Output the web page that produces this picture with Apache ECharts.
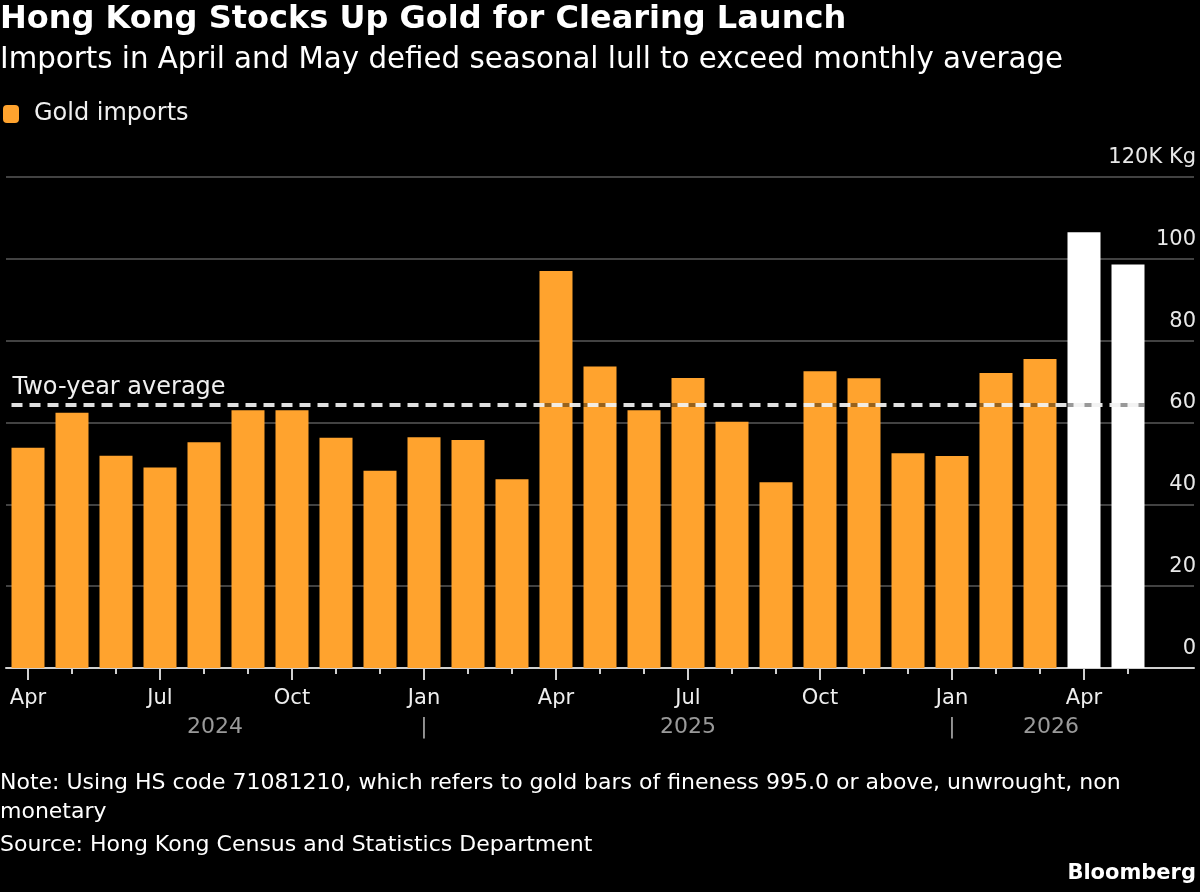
<!DOCTYPE html>
<html>
<head>
<meta charset="utf-8">
<script src="https://cdn.jsdelivr.net/npm/echarts@6/dist/echarts.min.js"></script>
<style>
    html, body { margin: 0; padding: 0; background: #000; }
    #chart { width: 1200px; height: 892px; }
</style>
</head>
<body>
<div id="chart"></div>
<script>
// monthly gold imports, Apr 2024 - May 2026 (thousand kg)
const months = ['Apr', 'May', 'Jun', 'Jul', 'Aug', 'Sep', 'Oct', 'Nov', 'Dec',
    'Jan', 'Feb', 'Mar', 'Apr', 'May', 'Jun', 'Jul', 'Aug', 'Sep', 'Oct', 'Nov', 'Dec',
    'Jan', 'Feb', 'Mar', 'Apr', 'May'];
const goldImports = [53.8, 62.4, 51.9, 49.0, 55.2, 63.0, 63.0, 56.3, 48.2,
    56.4, 55.7, 46.1, 97.0, 73.7, 63.0, 70.9, 60.2, 45.4, 72.5, 70.8, 52.5,
    51.8, 72.1, 75.5, 106.5, 98.6];
const twoYearAverage = 64.4;
const yearLabels = ['2024', '2025', '2026'];
const noteLines = ['Note: Using HS code 71081210, which refers to gold bars of fineness 995.0 or above, unwrought, non',
    'monetary'];
const sourceText = 'Source: Hong Kong Census and Statistics Department';

const font = 'DejaVu Sans';
const orange = '#ffa32e';
const axisGray = '#d0d0d0';
const barRatio = 0.75;

let chart = echarts.init(document.getElementById('chart'));

// one empty category on the right keeps the bars clear of the value labels
let categories = months.concat(['']);

// year captions sit midway between the January boundaries
let janIdx = [];
months.forEach((m, i) => { if (m === 'Jan') janIdx.push(i); });
let bounds = [-0.5].concat(janIdx, [months.length - 0.5]);
let yearAxisLabels = {};
for (let k = 0; k < yearLabels.length; k++) {
    yearAxisLabels[((bounds[k] + bounds[k + 1]) / 2).toFixed(2)] = yearLabels[k];
}
janIdx.forEach(i => { yearAxisLabels[i.toFixed(2)] = '|'; });

let barData = goldImports.map((v, i) => {
    if (i >= goldImports.length - 2) {
        return { value: v, itemStyle: { color: '#ffffff' } };
    }
    return v;
});

let lineStart = -barRatio / 2;
let lineEnd = months.length - 1 + barRatio / 2;

let options = {
    backgroundColor: '#000',
    animation: false,
    textStyle: { fontFamily: font },
    title: [
        {
            text: 'Hong Kong Stocks Up Gold for Clearing Launch',
            left: 0, top: 1, padding: 0,
            textStyle: { color: '#fff', fontSize: 32, fontWeight: 'bold', lineHeight: 38, fontFamily: font }
        },
        {
            text: 'Imports in April and May defied seasonal lull to exceed monthly average',
            left: 0, top: 43, padding: 0,
            textStyle: { color: '#fff', fontSize: 29.3, fontWeight: 'normal', lineHeight: 34, fontFamily: font }
        },
        {
            text: noteLines.join('\n'),
            left: 0, top: 769, padding: 0,
            textStyle: { color: '#fff', fontSize: 22, fontWeight: 'normal', lineHeight: 29, fontFamily: font }
        },
        {
            text: sourceText,
            left: 0, top: 831, padding: 0,
            textStyle: { color: '#fff', fontSize: 22, fontWeight: 'normal', lineHeight: 29, fontFamily: font }
        },
        {
            text: 'Bloomberg',
            right: 4, top: 862, padding: 0,
            textStyle: { color: '#fff', fontSize: 21, fontWeight: 'bold', lineHeight: 24, fontFamily: font }
        }
    ],
    legend: {
        data: ['Gold imports'],
        left: 3, top: 102, padding: 0,
        icon: 'roundRect',
        itemWidth: 16, itemHeight: 18,
        selectedMode: false,
        textStyle: { color: '#f0f0f0', fontSize: 24, fontFamily: font, padding: [0, 0, 0, 10] }
    },
    grid: {
        left: 6, right: 6, top: 177, bottom: 224,
        outerBoundsMode: 'none',
        containLabel: false
    },
    xAxis: [
        {
            type: 'category',
            data: categories,
            position: 'bottom',
            axisLine: { show: true, lineStyle: { color: axisGray, width: 2 } },
            axisTick: {
                show: true, alignWithLabel: true, length: 12,
                interval: (i) => i % 3 === 0 && i < months.length,
                lineStyle: { color: axisGray, width: 2 }
            },
            axisLabel: {
                interval: (i) => i % 3 === 0,
                margin: 20, color: '#eeeeee', fontSize: 21, fontFamily: font
            },
            splitLine: { show: false }
        },
        {
            type: 'category',
            data: categories,
            position: 'bottom',
            axisLine: { show: false },
            axisTick: {
                show: true, alignWithLabel: true, length: 6,
                interval: (i) => i < months.length,
                lineStyle: { color: axisGray, width: 2 }
            },
            axisLabel: { show: false },
            splitLine: { show: false }
        },
        {
            type: 'value',
            position: 'bottom',
            min: -0.5,
            max: categories.length - 0.5,
            interval: 0.25,
            axisLine: { show: false },
            axisTick: { show: false },
            splitLine: { show: false },
            axisLabel: {
                margin: 48, color: '#9a9a9a', fontSize: 22, fontFamily: font,
                showMinLabel: true, showMaxLabel: true,
                formatter: (v) => yearAxisLabels[v.toFixed(2)] || ''
            }
        }
    ],
    yAxis: {
        type: 'value',
        position: 'right',
        min: 0, max: 120, interval: 20,
        axisLine: { show: false },
        axisTick: { show: false },
        splitLine: { lineStyle: { color: '#585858', width: 1.5 } },
        axisLabel: {
            inside: true, margin: -2,
            verticalAlign: 'bottom', padding: [0, 0, 9, 0],
            color: '#e8e8e8', fontSize: 21, fontFamily: font,
            formatter: (v) => v === 120 ? '120K Kg' : String(v)
        }
    },
    series: [
        {
            name: 'Gold imports',
            type: 'bar',
            xAxisIndex: 0,
            yAxisIndex: 0,
            barWidth: (barRatio * 100) + '%',
            itemStyle: { color: orange },
            data: barData
        },
        {
            name: 'average',
            type: 'line',
            xAxisIndex: 2,
            yAxisIndex: 0,
            data: [],
            markLine: {
                silent: true,
                symbol: ['none', 'none'],
                animation: false,
                data: [
                    [
                        {
                            coord: [lineStart, twoYearAverage],
                            lineStyle: { color: 'rgba(0,0,0,0.4)', type: 'solid', width: 4 },
                            label: { show: false }
                        },
                        { coord: [lineEnd, twoYearAverage] }
                    ],
                    [
                        {
                            coord: [lineStart, twoYearAverage],
                            lineStyle: { color: 'rgba(255,255,255,0.88)', type: [11, 7], width: 4 },
                            label: {
                                show: true,
                                position: 'insideStartTop',
                                formatter: 'Two-year average',
                                color: '#f0f0f0', fontSize: 24, fontFamily: font,
                                distance: [1, 5]
                            }
                        },
                        { coord: [lineEnd, twoYearAverage] }
                    ]
                ]
            }
        }
    ]
};
chart.setOption(options);
</script>
</body>
</html>
